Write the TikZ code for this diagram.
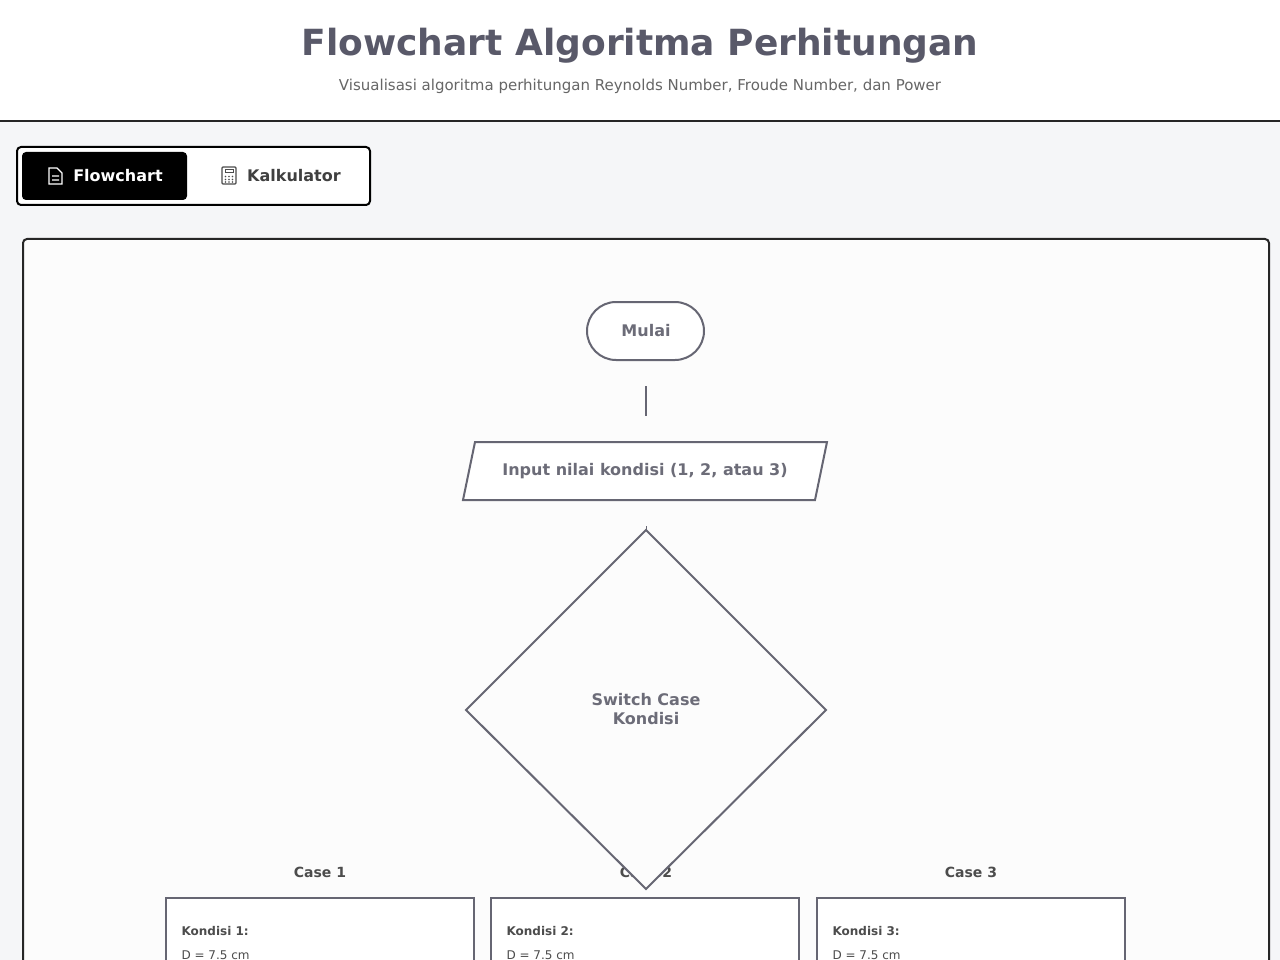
\documentclass[tikz,border=0pt]{standalone}
\usepackage{fontspec}
\setmainfont{DejaVu Sans}
\begin{document}
\begin{tikzpicture}[x=1pt,y=-1pt,
  fg/.style={draw=black!75!blue!20!gray,line width=2pt},
  lbl/.style={font=\bfseries\fontsize{16}{19}\selectfont,text=black!70!blue!15!gray},
  small/.style={font=\fontsize{12}{14}\selectfont,text=black!70,anchor=west}]
\definecolor{bg}{HTML}{F5F6F8}
\fill[bg] (0,0) rectangle (1280,960);
\useasboundingbox (0,0) rectangle (1280,960);
\fill[white] (0,0) rectangle (1280,120);
\draw[line width=2pt,black!85] (0,121) -- (1280,121);
\node[font=\bfseries\fontsize{36}{40}\selectfont,text=black!80!blue!30!gray] (title) at (640,46) {Flowchart Algoritma Perhitungan};
\node[font=\fontsize{15}{18}\selectfont,text=black!60] (sub) at (640,86) {Visualisasi algoritma perhitungan Reynolds Number, Froude Number, dan Power};
% tabs
\draw[line width=2pt,fill=white,rounded corners=4pt] (17,147) rectangle (370,205);
\fill[black,rounded corners=4pt] (22,152) rectangle (187,200);
\node[font=\bfseries\fontsize{16}{19}\selectfont,text=white] (t1) at (118,176) {Flowchart};
\draw[white,line width=1.3pt] (49,168) -- (57,168) -- (62,173) -- (62,184) -- (49,184) -- cycle (52,176)--(59,176) (52,180)--(59,180);
\node[font=\bfseries\fontsize{16}{19}\selectfont,text=black!75] (t2) at (294,176) {Kalkulator};
\draw[black!70,line width=1.2pt,rounded corners=1pt] (222,167) rectangle (236,184);
\draw[black!70,line width=1pt] (225,170) rectangle (233,173);
\foreach \a in {225.5,229,232.5}{\foreach \b in {176.5,179.5,182}{\fill[black!70] (\a,\b) circle (0.8);}}
% panel
\draw[line width=2pt,fill=white!98!gray,rounded corners=4pt,draw=black!85] (23,239) rectangle (1269,990);
% flow
\draw[fg,rounded corners=29pt,fill=white] (587,302) rectangle (704,360);
\node[lbl] (mulai) at (646,331) {Mulai};
\draw[fg] (646,386) -- (646,416);
\draw[fg,fill=white] (475,442) -- (827,442) -- (815,500) -- (463,500) -- cycle;
\node[lbl] (input) at (645,471) {Input nilai kondisi (1, 2, atau 3)};
\draw[fg,line width=1pt] (646,526) -- (646,530);
\foreach \x/\n in {320/1,646/2,971/3}{
  \node[font=\bfseries\fontsize{14}{17}\selectfont,text=black!70] (case\n) at (\x,872) {Case \n};}
\draw[fg,fill=white!98!gray] (646,530) -- (826,710) -- (646,889) -- (466,710) -- cycle;
\node[lbl,align=center] (sw) at (646,709) {Switch Case\\Kondisi};
\foreach \x/\n in {166/1,491/2,817/3}{
  \draw[fg,fill=white] (\x,898) rectangle (\x+308,990);
  \node[small,font=\bfseries\fontsize{12}{14}\selectfont] (k\n) at (\x+12,931) {Kondisi \n:};
  \node[small] (d\n) at (\x+12,955) {D = 7.5 cm};}
\end{tikzpicture}
\end{document}
